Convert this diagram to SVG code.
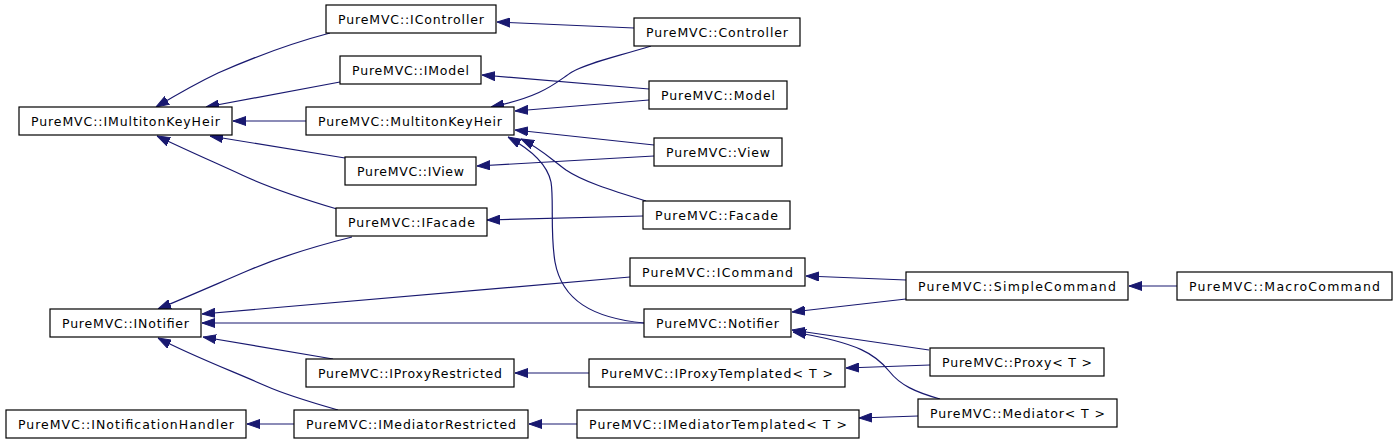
<svg xmlns="http://www.w3.org/2000/svg" width="1397" height="443" viewBox="0 0 1397 443">
<style>
.n rect{fill:#fff;stroke:#000;stroke-width:1.2}
.n text{font-family:"DejaVu Sans",sans-serif;font-size:12.5px;fill:#000;text-anchor:middle}
.e path{fill:none;stroke:#191970;stroke-width:1.2;marker-end:url(#ah)}
</style>
<defs>
<marker id="ah" markerUnits="userSpaceOnUse" markerWidth="13" markerHeight="10" viewBox="0 0 13 10" refX="13" refY="5" orient="auto">
<path d="M0,0.5 L13,5 L0,9.5 z" fill="#191970" stroke="#191970" stroke-width="1"/>
</marker>
</defs>
<rect width="1397" height="443" fill="#fff"/>
<g id="connectors" class="e">
<path d="M634,28 L497,22"/>
<path d="M649,89 L482,75"/>
<path d="M651,46 C612,58 588,63 572,72 C556,82 545,96 491,107"/>
<path d="M649,100 L515,111"/>
<path d="M654,145 L515,130"/>
<path d="M654,156 L477,166"/>
<path d="M646,201 C610,190 582,181 566,170 C551,159 540,148 521,139"/>
<path d="M644,323 C592,318 562,300 555,262 C550,232 554,200 551,182 C547,163 530,149 508,137"/>
<path d="M643,216 L487,220"/>
<path d="M330,33 C292,43 252,58 218,73 C197,83 176,95 156,107"/>
<path d="M340,82 L206,107"/>
<path d="M306,121 L233,121"/>
<path d="M345,158 L210,136"/>
<path d="M337,209 C300,198 270,188 242,175 C216,163 186,150 157,136"/>
<path d="M352,237 C312,247 282,256 247,271 C212,286 187,297 158,309"/>
<path d="M630,277 L202,314"/>
<path d="M644,323 L202,323"/>
<path d="M333,359 L203,337"/>
<path d="M338,410 C310,402 286,395 266,386 C232,371 190,355 158,338"/>
<path d="M294,424 L247,424"/>
<path d="M589,373 L515,373"/>
<path d="M577,424 L529,424"/>
<path d="M906,280 L806,276"/>
<path d="M906,299 L792,312"/>
<path d="M1177,286 L1129,286"/>
<path d="M929,350 L792,330"/>
<path d="M940,399 C915,392 900,385 889,371 C876,355 860,343 793,332"/>
<path d="M930,365 L846,368"/>
<path d="M918,416 L859,418"/>
</g>
<g id="IController" class="n"><rect x="326" y="5" width="170" height="28"/><text x="411" y="23.5" textLength="146" lengthAdjust="spacing">PureMVC::IController</text></g>
<g id="Controller" class="n"><rect x="634" y="18" width="166" height="28"/><text x="717" y="36.5" textLength="142" lengthAdjust="spacing">PureMVC::Controller</text></g>
<g id="IModel" class="n"><rect x="340" y="56" width="141" height="28"/><text x="410.5" y="74.5" textLength="117" lengthAdjust="spacing">PureMVC::IModel</text></g>
<g id="Model" class="n"><rect x="649" y="81" width="138" height="28"/><text x="718" y="99.5" textLength="114" lengthAdjust="spacing">PureMVC::Model</text></g>
<g id="IMultitonKeyHeir" class="n"><rect x="19" y="107" width="213" height="28"/><text x="125.5" y="125.5" textLength="189" lengthAdjust="spacing">PureMVC::IMultitonKeyHeir</text></g>
<g id="MultitonKeyHeir" class="n"><rect x="306" y="107" width="208" height="28"/><text x="410" y="125.5" textLength="184" lengthAdjust="spacing">PureMVC::MultitonKeyHeir</text></g>
<g id="View" class="n"><rect x="654" y="138" width="128" height="28"/><text x="718" y="156.5" textLength="104" lengthAdjust="spacing">PureMVC::View</text></g>
<g id="IView" class="n"><rect x="345" y="157" width="131" height="28"/><text x="410.5" y="175.5" textLength="107" lengthAdjust="spacing">PureMVC::IView</text></g>
<g id="Facade" class="n"><rect x="643" y="201" width="147" height="28"/><text x="716.5" y="219.5" textLength="123" lengthAdjust="spacing">PureMVC::Facade</text></g>
<g id="IFacade" class="n"><rect x="336" y="208" width="151" height="28"/><text x="411.5" y="226.5" textLength="127" lengthAdjust="spacing">PureMVC::IFacade</text></g>
<g id="ICommand" class="n"><rect x="630" y="258" width="175" height="28"/><text x="717.5" y="276.5" textLength="151" lengthAdjust="spacing">PureMVC::ICommand</text></g>
<g id="SimpleCommand" class="n"><rect x="906" y="272" width="222" height="28"/><text x="1017" y="290.5" textLength="198" lengthAdjust="spacing">PureMVC::SimpleCommand</text></g>
<g id="MacroCommand" class="n"><rect x="1177" y="272" width="215" height="28"/><text x="1284.5" y="290.5" textLength="191" lengthAdjust="spacing">PureMVC::MacroCommand</text></g>
<g id="INotifier" class="n"><rect x="50" y="309" width="151" height="28"/><text x="125.5" y="327.5" textLength="127" lengthAdjust="spacing">PureMVC::INotifier</text></g>
<g id="Notifier" class="n"><rect x="644" y="309" width="147" height="28"/><text x="717.5" y="327.5" textLength="123" lengthAdjust="spacing">PureMVC::Notifier</text></g>
<g id="Proxy" class="n"><rect x="930" y="348" width="174" height="28"/><text x="1017" y="366.5" textLength="150" lengthAdjust="spacing">PureMVC::Proxy&lt; T &gt;</text></g>
<g id="IProxyRestricted" class="n"><rect x="306" y="359" width="208" height="28"/><text x="410" y="377.5" textLength="184" lengthAdjust="spacing">PureMVC::IProxyRestricted</text></g>
<g id="IProxyTemplated" class="n"><rect x="589" y="359" width="256" height="28"/><text x="717" y="377.5" textLength="232" lengthAdjust="spacing">PureMVC::IProxyTemplated&lt; T &gt;</text></g>
<g id="Mediator" class="n"><rect x="918" y="399" width="199" height="28"/><text x="1017.5" y="417.5" textLength="175" lengthAdjust="spacing">PureMVC::Mediator&lt; T &gt;</text></g>
<g id="INotificationHandler" class="n"><rect x="6" y="410" width="240" height="28"/><text x="126" y="428.5" textLength="216" lengthAdjust="spacing">PureMVC::INotificationHandler</text></g>
<g id="IMediatorRestricted" class="n"><rect x="294" y="410" width="234" height="28"/><text x="411" y="428.5" textLength="210" lengthAdjust="spacing">PureMVC::IMediatorRestricted</text></g>
<g id="IMediatorTemplated" class="n"><rect x="577" y="410" width="282" height="28"/><text x="718" y="428.5" textLength="258" lengthAdjust="spacing">PureMVC::IMediatorTemplated&lt; T &gt;</text></g>
</svg>
